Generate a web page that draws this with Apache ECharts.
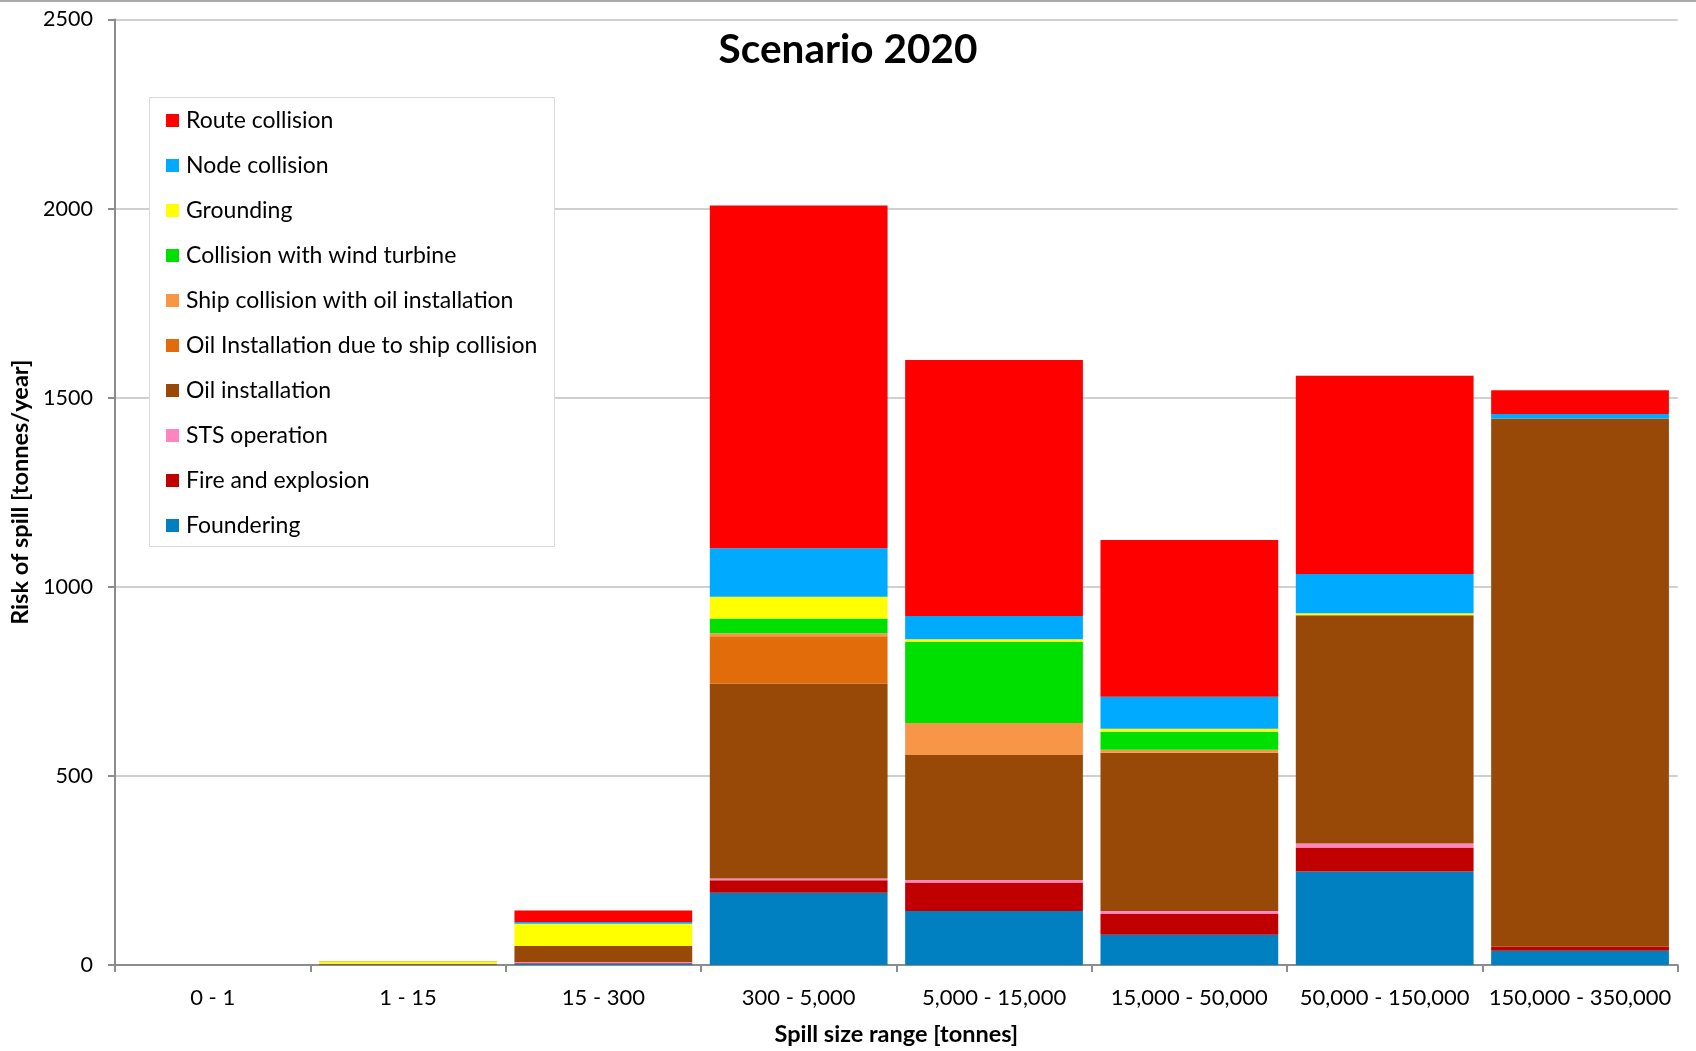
<!DOCTYPE html>
<html>
<head>
<meta charset="utf-8">
<title>Scenario 2020</title>
<script src="https://cdn.jsdelivr.net/npm/echarts@6/dist/echarts.min.js"></script>
<style>
  html, body { margin: 0; padding: 0; background: #ffffff; }
  #chart { width: 1696px; height: 1051px; }
</style>
</head>
<body>
<div id="chart"></div>
<script>
// Spill size ranges on the x axis
const categories = ['0 - 1', '1 - 15', '15 - 300', '300 - 5,000', '5,000 - 15,000',
  '15,000 - 50,000', '50,000 - 150,000', '150,000 - 350,000'];

// Risk of spill [tonnes/year] per cause, stacked from the bottom up
const foundering        = [0, 1, 4, 191, 143, 80, 247, 38];
const fireExplosion     = [0, 0, 1, 33, 75, 55, 64, 10];
const stsOperation      = [0, 0, 3, 5, 7, 8, 10, 0];
const oilInstallation   = [0, 2, 42, 515, 330, 418, 604, 1397];
const oilInstDueToShip  = [0, 0, 0, 125, 0, 0, 0, 0];
const shipWithOilInst   = [0, 0, 0, 8, 85, 8, 0, 0];
const windTurbine       = [0, 0, 0, 39, 214, 48, 0, 0];
const grounding         = [0, 6, 59, 58, 7, 8, 5, 0];
const nodeCollision     = [0, 0, 5, 128, 62, 84, 104, 12];
const routeCollision    = [0, 1, 30, 906, 677, 415, 524, 63];

const yTicks = [0, 500, 1000, 1500, 2000, 2500];

const FONT = 'Lato';

// name, values, colour — bottom of the stack first
const layers = [
  ['Foundering', foundering, '#0080C0'],
  ['Fire and explosion', fireExplosion, '#C00000'],
  ['STS operation', stsOperation, '#FF85C2'],
  ['Oil installation', oilInstallation, '#984807'],
  ['Oil Installation due to ship collision', oilInstDueToShip, '#E26B0A'],
  ['Ship collision with oil installation', shipWithOilInst, '#F79646'],
  ['Collision with wind turbine', windTurbine, '#00E000'],
  ['Grounding', grounding, '#FFFF00'],
  ['Node collision', nodeCollision, '#00AAFF'],
  ['Route collision', routeCollision, '#FF0000']
];

const series = layers.map(([name, values, color]) => ({
  name: name,
  type: 'bar',
  stack: 'risk',
  barCategoryGap: '9%',
  data: values,
  itemStyle: { color: color },
  emphasis: { disabled: true }
}));

const chart = echarts.init(document.getElementById('chart'), null, { renderer: 'canvas' });

chart.setOption({
  animation: false,
  backgroundColor: '#ffffff',
  title: {
    text: 'Scenario 2020',
    left: 'center',
    top: 24,
    textStyle: { fontFamily: FONT, fontWeight: 'bold', fontSize: 40.5, color: '#000000' }
  },
  graphic: [
    {
      type: 'line',
      z: 5,
      shape: { x1: 0, y1: 1, x2: 1696, y2: 1 },
      style: { stroke: '#8c8c8c', lineWidth: 1.5 }
    },
    {
      type: 'rect',
      z: 5,
      shape: { x: 149.5, y: 97.5, width: 405, height: 449 },
      style: { fill: '#ffffff', stroke: '#d9d9d9', lineWidth: 1 }
    }
  ],
  legend: {
    z: 10,
    orient: 'vertical',
    left: 166,
    top: 109,
    padding: 0,
    itemWidth: 13,
    itemHeight: 13,
    itemGap: 22,
    icon: 'rect',
    selectedMode: false,
    data: layers.map(l => l[0]).reverse(),
    textStyle: { fontFamily: FONT, fontSize: 23, color: '#000000', lineHeight: 22, padding: [0, 0, 0, 2] }
  },
  grid: {
    left: 114.6,
    right: 18.3,
    top: 19.5,
    bottom: 84,
    containLabel: false
  },
  xAxis: {
    type: 'category',
    data: categories,
    name: 'Spill size range [tonnes]',
    nameLocation: 'middle',
    nameGap: 57,
    nameTextStyle: { fontFamily: FONT, fontWeight: 'bold', fontSize: 23.5, color: '#000000' },
    axisLine: { lineStyle: { color: '#8c8c8c', width: 2 } },
    axisTick: { show: true, length: 7, lineStyle: { color: '#8c8c8c', width: 2 } },
    axisLabel: { fontFamily: FONT, fontSize: 22, color: '#000000', margin: 22, interval: 0 },
    splitLine: { show: false }
  },
  yAxis: {
    type: 'value',
    min: yTicks[0],
    max: yTicks[yTicks.length - 1],
    interval: 500,
    name: 'Risk of spill [tonnes/year]',
    nameLocation: 'middle',
    nameRotate: 90,
    nameGap: 83,
    nameTextStyle: { fontFamily: FONT, fontWeight: 'bold', fontSize: 23.5, color: '#000000' },
    axisLine: { show: true, lineStyle: { color: '#8c8c8c', width: 2 } },
    axisTick: { show: true, length: 7, lineStyle: { color: '#8c8c8c', width: 2 } },
    axisLabel: {
      fontFamily: FONT, fontSize: 21.5, color: '#000000', margin: 22,
      formatter: v => String(v)
    },
    splitLine: { show: true, lineStyle: { color: '#c0c0c0', width: 1.5 } }
  },
  series: series
});
</script>
</body>
</html>
